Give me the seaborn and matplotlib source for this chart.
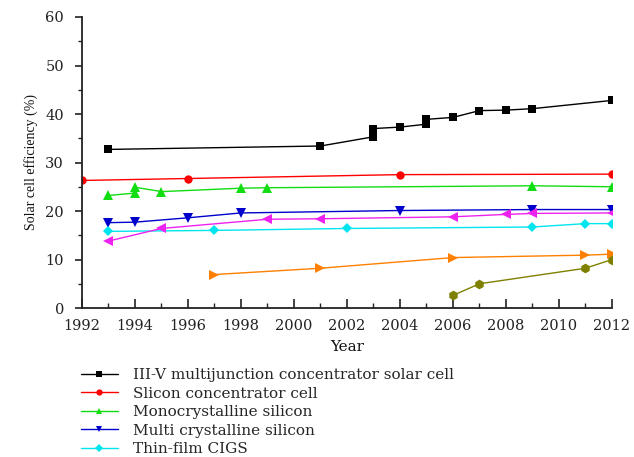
import matplotlib
matplotlib.use("Agg")
import matplotlib.pyplot as plt
import seaborn as sns
import pandas as pd
from matplotlib.ticker import MultipleLocator
from matplotlib.lines import Line2D

# ---- data ----
years_iiiv = [1993, 2001, 2003, 2003, 2004, 2005, 2005, 2006, 2007, 2008, 2009, 2012]
eff_iiiv = [32.7, 33.4, 35.3, 37.0, 37.3, 37.9, 38.9, 39.3, 40.7, 40.8, 41.1, 42.8]

years_si_conc = [1992, 1996, 2004, 2012]
eff_si_conc = [26.3, 26.7, 27.5, 27.6]

years_mono = [1993, 1994, 1994, 1995, 1998, 1999, 2009, 2012]
eff_mono = [23.2, 24.9, 23.7, 24.0, 24.7, 24.8, 25.2, 25.0]

years_multi = [1993, 1994, 1996, 1998, 2004, 2009, 2012]
eff_multi = [17.6, 17.7, 18.6, 19.6, 20.1, 20.3, 20.3]

years_cigs = [1993, 1997, 2002, 2009, 2011, 2012]
eff_cigs = [15.8, 16.0, 16.4, 16.7, 17.4, 17.4]

years_magenta = [1993, 1995, 1999, 2001, 2006, 2008, 2009, 2012]
eff_magenta = [13.8, 16.4, 18.3, 18.4, 18.8, 19.3, 19.5, 19.6]

years_orange = [1997, 2001, 2006, 2011, 2012]
eff_orange = [6.9, 8.2, 10.4, 10.9, 11.1]

years_olive = [2006, 2007, 2011, 2012]
eff_olive = [2.6, 5.0, 8.2, 10.0]

legend_labels = [
    "III-V multijunction concentrator solar cell",
    "Slicon concentrator cell",
    "Monocrystalline silicon",
    "Multi crystalline silicon",
    "Thin-film CIGS",
]

series = [
    (years_iiiv, eff_iiiv, "#000000", "s", 6),
    (years_si_conc, eff_si_conc, "#ff0000", "o", 6),
    (years_mono, eff_mono, "#11dd11", "^", 7),
    (years_multi, eff_multi, "#0000cc", "v", 7),
    (years_cigs, eff_cigs, "#00e5ee", "D", 5),
    (years_magenta, eff_magenta, "#ee22ee", "<", 7),
    (years_orange, eff_orange, "#ff8000", ">", 7),
    (years_olive, eff_olive, "#808000", "h", 7),
]

sns.set_theme(style="ticks")
plt.rcParams["font.family"] = ["DejaVu Serif"]

fig = plt.figure(figsize=(6.34, 4.57), dpi=100)
ax = fig.add_axes([82 / 634, 1 - 308 / 457, (612 - 82) / 634, (308 - 17) / 457])

for xs, ys, col, mk, ms in series:
    df = pd.DataFrame({"year": xs, "eff": ys})
    sns.lineplot(data=df, x="year", y="eff", ax=ax, color=col, marker=mk,
                 markersize=ms, markeredgewidth=0, linewidth=1.0,
                 estimator=None, sort=True, legend=False)

ax.set_xlim(1992, 2012)
ax.set_ylim(0, 60)
ax.xaxis.set_major_locator(MultipleLocator(2))
ax.xaxis.set_minor_locator(MultipleLocator(1))
ax.yaxis.set_major_locator(MultipleLocator(10))
ax.yaxis.set_minor_locator(MultipleLocator(5))

for s in ["top", "right"]:
    ax.spines[s].set_visible(False)
for s in ["left", "bottom"]:
    ax.spines[s].set_color("#222222")
    ax.spines[s].set_linewidth(1.3)

ax.tick_params(axis="x", which="major", direction="in", length=6.5, width=1.2,
               pad=8, labelsize=10.5, colors="#222222")
ax.tick_params(axis="x", which="minor", direction="in", length=3.5, width=1.0,
               colors="#222222")
ax.tick_params(axis="y", which="major", direction="out", length=5, width=1.2,
               pad=8, labelsize=10.5, colors="#222222")
ax.tick_params(axis="y", which="minor", direction="out", length=3, width=1.0,
               colors="#222222")

ax.set_xlabel("Year", fontsize=11, labelpad=5, color="#111111")
ax.set_ylabel("Solar cell efficiency (%)", fontsize=10,
              family=["Liberation Serif"], labelpad=5, color="#111111")

handles = []
for (xs, ys, col, mk, ms), lab in zip(series[:5], legend_labels):
    handles.append(Line2D([], [], color=col, marker=mk, markersize=4.5,
                          markeredgewidth=0, linewidth=1.0, label=lab))
fig.legend(handles=handles, loc="upper left",
           bbox_to_anchor=(81 / 634, 1 - 368 / 457), frameon=False,
           fontsize=11, borderpad=0, borderaxespad=0, handlelength=2.4,
           handletextpad=1.0, labelspacing=0.3)

fig.savefig("out.png", dpi=100)
